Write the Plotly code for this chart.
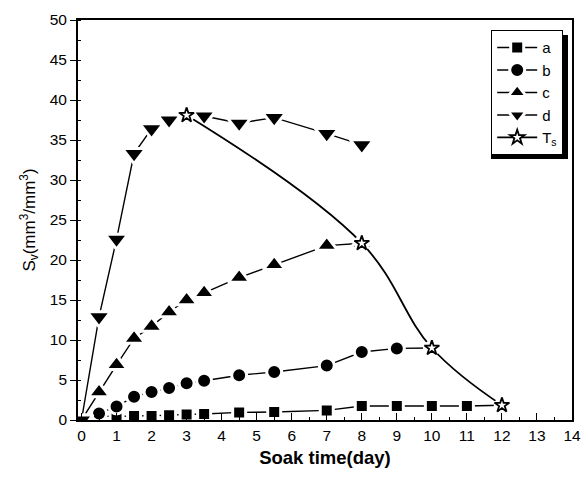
import plotly.graph_objects as go

# Soak time (days) and volumetric surface area S_v (mm^3/mm^3) per sample
days_a = [0, 0.5, 1, 1.5, 2, 2.5, 3, 3.5, 4.5, 5.5, 7, 8, 9, 10, 11, 12]
sv_a = [0, 0.5, 0.45, 0.5, 0.5, 0.6, 0.7, 0.75, 0.95, 1.0, 1.2, 1.75, 1.75, 1.75, 1.75, 1.85]

days_b = [0, 0.5, 1, 1.5, 2, 2.5, 3, 3.5, 4.5, 5.5, 7, 8, 9, 10]
sv_b = [0, 0.8, 1.7, 2.9, 3.5, 4.0, 4.6, 4.9, 5.6, 6.0, 6.8, 8.5, 8.95, 9.0]

days_c = [0, 0.5, 1, 1.5, 2, 2.5, 3, 3.5, 4.5, 5.5, 7, 8]
sv_c = [0, 3.5, 6.9, 10.2, 11.7, 13.5, 15.0, 15.9, 17.8, 19.4, 21.8, 22.1]

days_d = [0, 0.5, 1, 1.5, 2, 2.5, 3, 3.5, 4.5, 5.5, 7, 8]
sv_d = [0, 12.9, 22.6, 33.3, 36.4, 37.5, 38.0, 38.0, 37.1, 37.8, 35.8, 34.4]

# Saturation points T_s
days_ts = [3, 8, 10, 12]
sv_ts = [38.1, 22.1, 9.0, 1.85]

x_ticks = list(range(0, 15))
y_ticks = list(range(0, 55, 5))

FONT = "Liberation Sans, Arial, sans-serif"
W, H = 582, 482
L, R, T, B = 78, 10, 20, 62          # plot-area margins in px
PW, PH = W - L - R, H - T - B


def px_x(px):
    return (px - L) / PW


def px_y(py):
    return (H - B - py) / PH


fig = go.Figure()

series = [
    ("a", days_a, sv_a, "square", 13),
    ("b", days_b, sv_b, "circle", 15),
    ("c", days_c, sv_c, "triangle-up", 19),
    ("d", days_d, sv_d, "triangle-down", 20),
]
for name, xs, ys, sym, size in series:
    fig.add_trace(go.Scatter(
        x=xs, y=ys, name=name, mode="lines+markers",
        line=dict(color="black", width=1.4),
        marker=dict(symbol=sym, size=size, color="black",
                    line=dict(color="white", width=3)),
    ))

# T_s: smooth curve through the saturation points, open stars on top
star = dict(symbol="star", size=11, color="white", line=dict(color="black", width=1.8))
fig.add_trace(go.Scatter(
    x=days_ts, y=sv_ts, name="T<sub>s</sub>", mode="lines+markers",
    line=dict(color="black", width=1.8, shape="spline", smoothing=1.1),
    marker=star,
))
fig.add_trace(go.Scatter(
    x=days_ts, y=sv_ts, mode="markers", showlegend=False, hoverinfo="skip",
    marker=dict(symbol="circle", size=16, color="white", line=dict(width=0)),
))
fig.add_trace(go.Scatter(
    x=days_ts, y=sv_ts, mode="markers", showlegend=False, marker=star,
))

# drop shadow behind the legend box
fig.add_shape(type="rect", xref="paper", yref="paper",
              x0=px_x(491), x1=px_x(568), y0=px_y(159), y1=px_y(35),
              fillcolor="black", line=dict(width=0), layer="above")

axis_common = dict(
    showgrid=False, zeroline=False, automargin=False,
    showline=True, linecolor="black", linewidth=1.8, mirror=True,
    tickwidth=1.4, tickcolor="black",
    tickfont=dict(family=FONT, size=15.5),
)

fig.update_layout(
    width=W, height=H,
    margin=dict(l=L, r=R, t=T, b=B, pad=0),
    paper_bgcolor="white", plot_bgcolor="white",
    font=dict(family=FONT, size=15.5, color="black"),
    showlegend=True,
    legend=dict(
        x=px_x(563), y=px_y(30), xanchor="right", yanchor="top",
        bgcolor="white", bordercolor="black", borderwidth=1.2,
        font=dict(family=FONT, size=15, color="black"),
        itemwidth=40, tracegroupgap=0,
    ),
    xaxis=dict(
        range=[-0.1, 14], tickvals=x_ticks, ticktext=[str(v) for v in x_ticks],
        ticks="inside", ticklen=7,
        minor=dict(dtick=0.5, ticks="inside", ticklen=3, tickwidth=1.2, tickcolor="black"),
        title=dict(text="<b>Soak time(day)</b>", font=dict(family=FONT, size=18.5), standoff=9),
        **axis_common,
    ),
    yaxis=dict(
        range=[0, 50], tickvals=y_ticks, ticktext=[str(v) for v in y_ticks],
        ticks="outside", ticklen=6,
        minor=dict(dtick=2.5, ticks="inside", ticklen=3, tickwidth=1.2, tickcolor="black"),
        title=dict(text="S<sub>v</sub>(mm<sup>3</sup>/mm<sup>3</sup>)",
                   font=dict(family=FONT, size=17), standoff=10),
        **axis_common,
    ),
)

fig.write_html("out.html")
